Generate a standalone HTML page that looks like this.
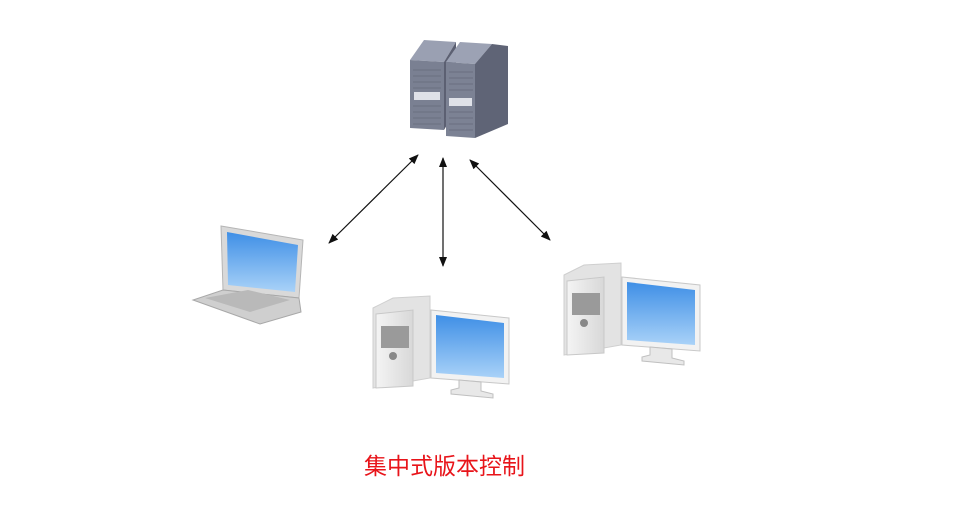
<!DOCTYPE html>
<html><head><meta charset="utf-8"><style>
body{margin:0;background:#fff;width:978px;height:523px;overflow:hidden}
svg{position:absolute;left:0;top:0}
.t{position:absolute;left:364px;top:447px;font:23px "Liberation Sans","Noto Sans CJK SC",sans-serif;color:#e8141a}
</style></head><body>
<svg width="978" height="523" viewBox="0 0 978 523">
<defs>
<marker id="a" markerWidth="10" markerHeight="10" refX="9" refY="5" orient="auto-start-reverse" markerUnits="userSpaceOnUse"><path d="M0,1 L10,5 L0,9 Z" fill="#111"/></marker>
<linearGradient id="scr" x1="0" y1="0" x2="0" y2="1"><stop offset="0" stop-color="#3f8fe6"/><stop offset="1" stop-color="#a9d2f8"/></linearGradient>
<linearGradient id="case" x1="0" y1="0" x2="1" y2="0"><stop offset="0" stop-color="#f4f4f4"/><stop offset="1" stop-color="#d8d8d8"/></linearGradient>
<g id="pc">
 <polygon points="0,12 20,2 57,0 57,82 0,92" fill="#e3e3e3" stroke="#cfcfcf"/>
 <polygon points="3,18 40,14 40,90 3,92" fill="url(#case)" stroke="#c8c8c8"/>
 <rect x="8" y="30" width="28" height="22" fill="#9a9a9a"/>
 <circle cx="20" cy="60" r="4" fill="#888"/>
 <polygon points="58,14 136,22 136,88 58,82" fill="#f2f2f2" stroke="#c8c8c8"/>
 <polygon points="63,19 131,27 131,82 63,77" fill="url(#scr)"/>
 <polygon points="86,84 108,86 108,95 120,98 120,102 78,98 78,94 86,92" fill="#e8e8e8" stroke="#c0c0c0"/>
</g>
</defs>
<polygon points="410,60 424,40 456,42 444,62" fill="#9aa0b2"/>
<polygon points="410,60 444,62 444,130 410,128" fill="#7a8092"/>
<polygon points="444,62 456,42 456,110 444,130" fill="#5c6072"/>
<polygon points="446,62 460,42 492,44 475,64" fill="#9ca2b4"/>
<polygon points="446,62 475,64 475,138 446,136" fill="#7c8294"/>
<polygon points="475,64 492,44 508,46 508,124 475,138" fill="#5f6476"/>
<rect x="414" y="92" width="26" height="8" fill="#dfe1e8"/>
<rect x="449" y="98" width="23" height="8" fill="#dfe1e8"/>
<g stroke="#6a6f80" stroke-width="1">
<path d="M413,70h28M413,76h28M413,82h28M413,88h28M413,106h28M413,112h28M413,118h28M413,124h28"/>
<path d="M449,72h24M449,78h24M449,84h24M449,90h24M449,112h24M449,118h24M449,124h24M449,130h24"/>
</g>
<g stroke="#111" stroke-width="1.2" fill="none">
<line x1="329" y1="243" x2="418" y2="155" marker-start="url(#a)" marker-end="url(#a)"/>
<line x1="443" y1="158" x2="443" y2="266" marker-start="url(#a)" marker-end="url(#a)"/>
<line x1="470" y1="160" x2="550" y2="240" marker-start="url(#a)" marker-end="url(#a)"/>
</g>
<polygon points="221,226 303,240 299,298 223,290" fill="#d9d9d9" stroke="#b5b5b5"/>
<polygon points="227,232 298,245 295,292 228,285" fill="url(#scr)"/>
<polygon points="223,290 299,298 301,312 260,324 193,300" fill="#cfcfcf" stroke="#a8a8a8"/>
<polygon points="205,298 248,290 290,300 250,312" fill="#b9b9b9"/>
<use href="#pc" x="373" y="296"/>
<use href="#pc" x="564" y="263"/>
</svg>
<div class="t">集中式版本控制</div>
</body></html>
